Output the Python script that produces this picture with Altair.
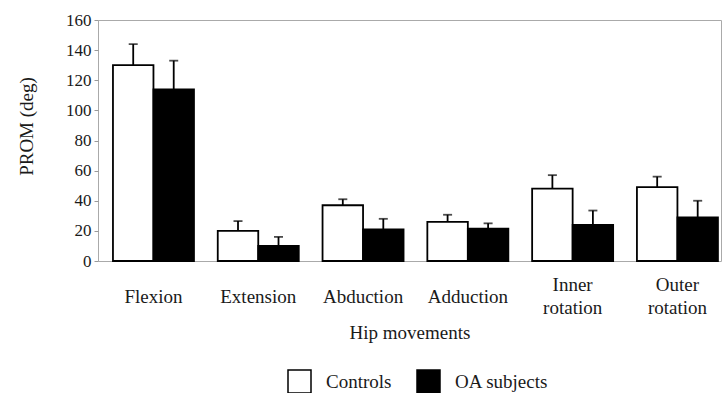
import altair as alt
import pandas as pd

# Hip passive range of motion (degrees), mean and SD per group
movements = ["Flexion", "Extension", "Abduction", "Adduction", "Inner rotation", "Outer rotation"]
groups = ["Controls", "OA subjects"]
controls_mean = [130, 20, 37, 26, 48, 49]
controls_sd = [14, 6.5, 4, 4.7, 9, 7]
oa_mean = [114, 10, 21, 21.5, 24, 29]
oa_sd = [19, 6, 7, 3.5, 9.5, 11]
y_ticks = [0, 20, 40, 60, 80, 100, 120, 140, 160]

rows = []
for i, m in enumerate(movements):
    rows.append({"movement": m, "group": groups[0], "mean": controls_mean[i], "sd": controls_sd[i]})
    rows.append({"movement": m, "group": groups[1], "mean": oa_mean[i], "sd": oa_sd[i]})
df = pd.DataFrame(rows)
df["upper"] = df["mean"] + df["sd"]

FONT = "Liberation Serif"
INK = "#1a1a1a"

x_enc = alt.X(
    "movement:N",
    sort=movements,
    scale=alt.Scale(paddingInner=0.227, paddingOuter=0.086, align=0.83),
    axis=alt.Axis(
        title="Hip movements",
        labelAngle=0,
        ticks=False,
        domain=False,
        labelExpr="split(datum.label, ' ')",
        labelFontSize=19,
        labelColor=INK,
        labelBaseline="middle",
        # two-line labels start higher so both lines sit around the same centre
        labelPadding={
            "condition": {"test": "indexof(datum.value, ' ') >= 0", "value": 23},
            "value": 35,
        },
        labelLineHeight=23,
        titleFontSize=19,
        titleFontWeight="normal",
        titleColor=INK,
        titleBaseline="middle",
        titleY=71,
    ),
)
xoff_enc = alt.XOffset("group:N", sort=groups, scale=alt.Scale(paddingInner=0, paddingOuter=0))

y_axis = alt.Axis(
    title="PROM (deg)",
    values=y_ticks,
    grid=False,
    domain=False,
    tickSize=4,
    tickColor="#999",
    labelOverlap=False,
    labelFontSize=17,
    labelColor=INK,
    labelPadding=3,
    titleFontSize=19,
    titleFontWeight="normal",
    titleColor=INK,
    titleX=-72,
    titleY=106,
    titleBaseline="middle",
    titleAlign="center",
)
y_scale = alt.Scale(domain=[0, 160], nice=False)

bars = alt.Chart(df).mark_bar(stroke="black", strokeWidth=1.8).encode(
    x=x_enc,
    xOffset=xoff_enc,
    y=alt.Y("mean:Q", scale=y_scale, axis=y_axis),
    color=alt.Color(
        "group:N",
        sort=groups,
        scale=alt.Scale(domain=groups, range=["white", "black"]),
        legend=alt.Legend(
            title=None,
            orient="none",
            legendX=189,
            legendY=349,
            direction="horizontal",
            symbolType="square",
            symbolSize=529,
            symbolStrokeColor="black",
            symbolStrokeWidth=1.5,
            labelFontSize=19,
            labelColor=INK,
            labelOffset=14,
            columnPadding=22,
        ),
    ),
)

err = alt.Chart(df).mark_rule(color="black", strokeWidth=1.8).encode(
    x=x_enc, xOffset=xoff_enc, y=alt.Y("mean:Q", scale=y_scale, axis=y_axis), y2="upper:Q"
)

caps = alt.Chart(df).mark_tick(color="black", thickness=1.8, size=9).encode(
    x=x_enc, xOffset=xoff_enc, y=alt.Y("upper:Q", scale=y_scale, axis=y_axis)
)

chart = (
    alt.layer(err, caps, bars)
    .properties(
        width=623,
        height=241,
        autosize=alt.AutoSizeParams(type="none"),
        padding={"left": 98, "top": 20, "right": 1, "bottom": 132},
        background="white",
    )
    .configure(font=FONT)
    .configure_axis(labelFont=FONT, titleFont=FONT)
    .configure_legend(labelFont=FONT)
    .configure_view(stroke="#aaa", strokeWidth=1)
)

chart.save("out.html", embed_options={"renderer": "svg", "actions": False})
